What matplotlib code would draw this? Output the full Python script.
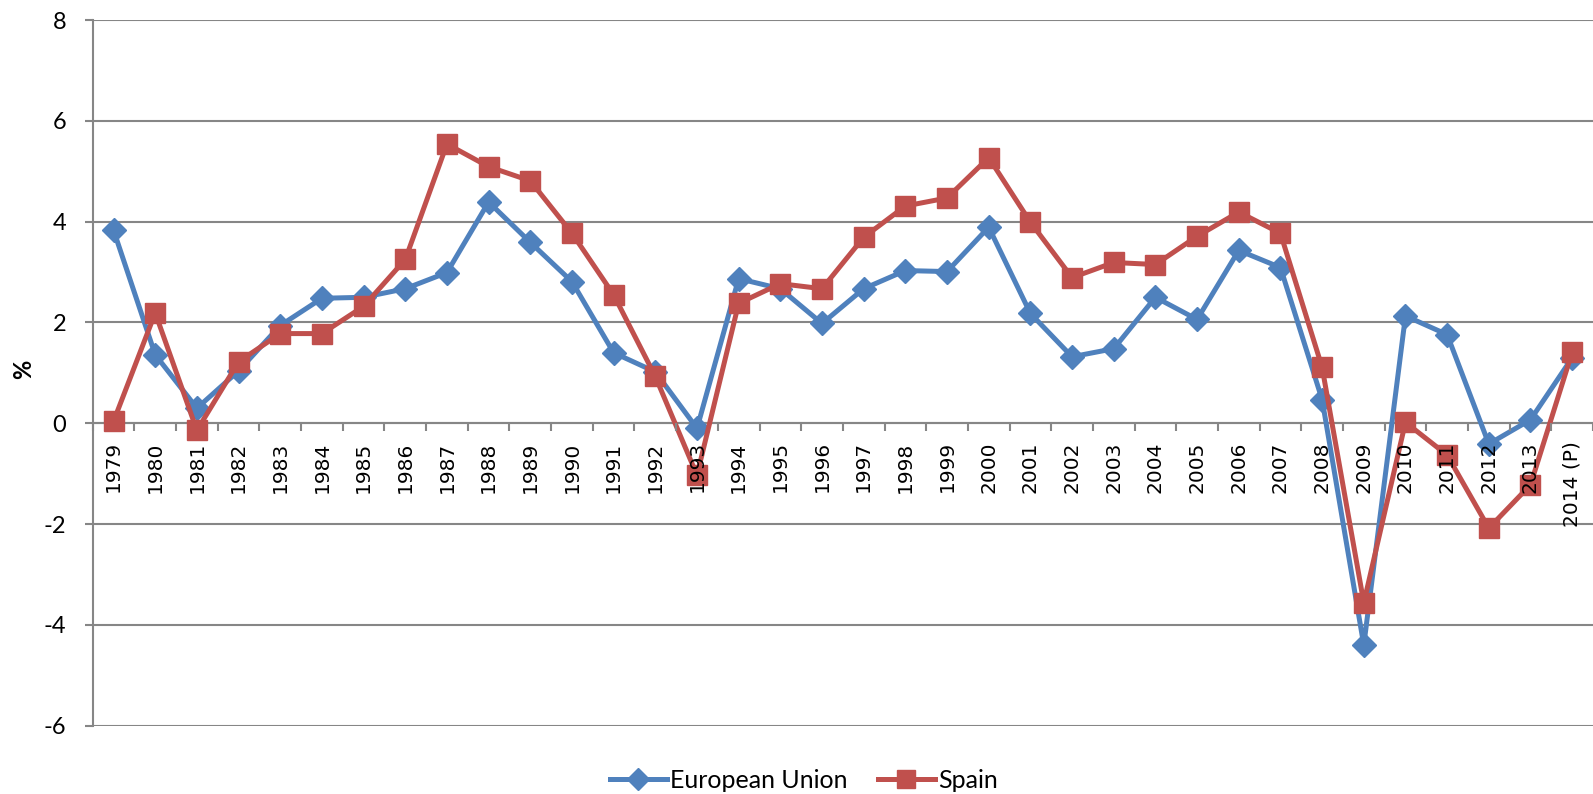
import matplotlib
matplotlib.use("Agg")
import matplotlib.pyplot as plt
import numpy as np

years = ["1979", "1980", "1981", "1982", "1983", "1984", "1985", "1986", "1987",
         "1988", "1989", "1990", "1991", "1992", "1993", "1994", "1995", "1996",
         "1997", "1998", "1999", "2000", "2001", "2002", "2003", "2004", "2005",
         "2006", "2007", "2008", "2009", "2010", "2011", "2012", "2013", "2014 (P)"]

eu = [3.83, 1.36, 0.30, 1.04, 1.94, 2.48, 2.50, 2.67, 2.99,
      4.39, 3.59, 2.81, 1.40, 1.02, -0.10, 2.87, 2.67, 1.98,
      2.67, 3.03, 3.01, 3.89, 2.18, 1.32, 1.48, 2.50, 2.06,
      3.43, 3.09, 0.47, -4.40, 2.13, 1.76, -0.41, 0.07, 1.30]

spain = [0.04, 2.19, -0.14, 1.22, 1.78, 1.78, 2.32, 3.25, 5.54,
         5.09, 4.81, 3.77, 2.55, 0.93, -1.03, 2.38, 2.77, 2.67,
         3.69, 4.31, 4.47, 5.27, 3.99, 2.89, 3.19, 3.15, 3.71,
         4.19, 3.77, 1.11, -3.56, 0.02, -0.63, -2.08, -1.22, 1.41]

yticks = [-6, -4, -2, 0, 2, 4, 6, 8]

blue = "#4F81BD"
red = "#C0504D"
grey = "#868686"

fig = plt.figure(figsize=(15.93, 7.94), dpi=100)
ax = fig.add_axes([0.0582, 0.0859, 0.9418, 0.8889])

x = np.arange(len(years))

# gridlines drawn by hand so they sit under the series
for yv in yticks:
    ax.axhline(yv, color=grey, lw=1.5, zorder=0.5)

ax.plot(x, eu, color=blue, lw=3.6, marker="D", ms=12, label="European Union", zorder=2)
ax.plot(x, spain, color=red, lw=3.6, marker="s", ms=14, label="Spain", zorder=2.1)

ax.set_xlim(-0.5, len(years) - 0.5)
ax.set_ylim(-6, 8)
ax.set_axisbelow(False)

ax.spines["top"].set_visible(False)
ax.spines["right"].set_visible(False)
ax.spines["bottom"].set_position(("data", 0))
for s in ["left", "bottom"]:
    ax.spines[s].set_color(grey)
    ax.spines[s].set_linewidth(1.5)
    ax.spines[s].set_zorder(0.6)

ax.set_yticks(yticks)
ax.set_yticklabels([str(v) for v in yticks], fontfamily="Lato", fontsize=17)
ax.tick_params(axis="y", length=6, width=1.5, color=grey, pad=13)

ax.set_xticks(x)
ax.set_xticklabels(years, rotation=90, fontfamily="DejaVu Sans", fontsize=14.5)
ax.set_xticks(np.arange(len(years) + 1) - 0.5, minor=True)
ax.tick_params(axis="x", which="major", length=0, pad=13)
ax.tick_params(axis="x", which="minor", length=6, width=1.5, color=grey)

fig.text(0.015, 0.535, "%", rotation=90, fontsize=17, fontweight="bold",
         fontfamily="Lato", ha="center", va="center")

leg = fig.legend(loc="center", bbox_to_anchor=(0.5047, 0.0176), ncol=2, frameon=False,
                 prop={"family": "Lato", "size": 18}, handlelength=2.28,
                 handletextpad=0.15, columnspacing=1.2, markerscale=0.9)

fig.savefig("out.png", dpi=100)
